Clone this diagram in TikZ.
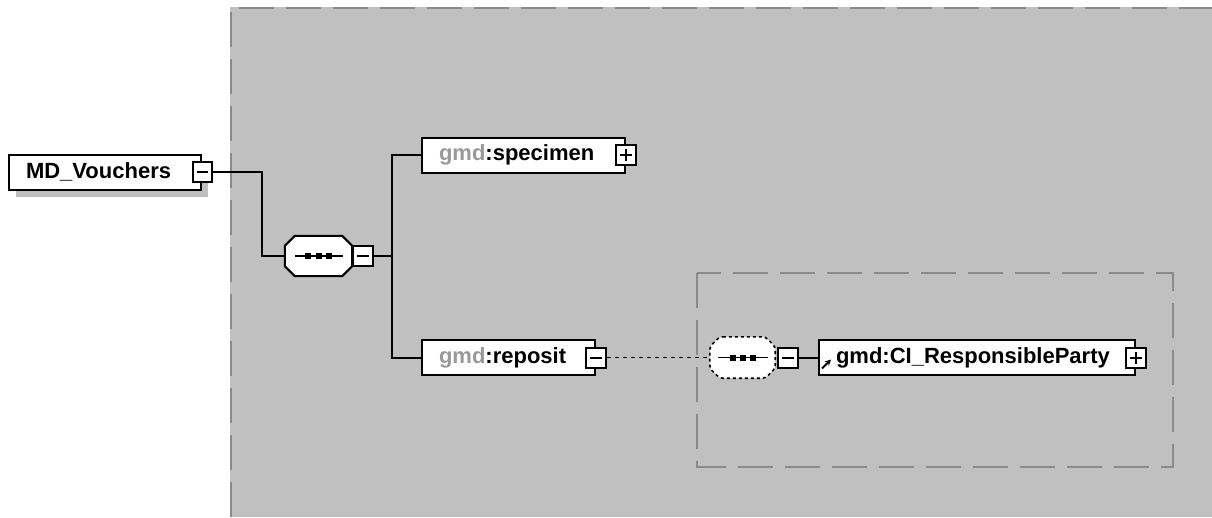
\documentclass[tikz,border=0pt]{standalone}
\usepackage{fontspec}
\setmainfont{Liberation Sans}
\usetikzlibrary{calc,arrows.meta}
\definecolor{bggray}{HTML}{C0C0C0}
\definecolor{dashgray}{HTML}{8A8A8A}
\definecolor{pfxgray}{HTML}{999999}
\tikzset{
  elem/.style={draw=black, line width=2pt, fill=white, minimum height=35pt,
    inner xsep=17pt, inner ysep=0pt, align=left, anchor=west,
    font=\fontsize{22}{26}\selectfont\bfseries},
  btn/.style={draw=black, line width=2pt, fill=white, minimum width=20pt,
    minimum height=20pt, inner sep=0pt},
  minusbtn/.style={btn, path picture={
    \draw[line width=2pt] ($(path picture bounding box.west)+(4pt,0pt)$) -- ($(path picture bounding box.east)+(-4pt,0pt)$);}},
  plusbtn/.style={btn, path picture={
    \draw[line width=2pt] ($(path picture bounding box.west)+(4pt,0pt)$) -- ($(path picture bounding box.east)+(-4pt,0pt)$);
    \draw[line width=2pt] ($(path picture bounding box.north)+(0pt,-4pt)$) -- ($(path picture bounding box.south)+(0pt,4pt)$);}},
  seqbox/.style={rectangle, inner sep=0pt, minimum width=67pt, minimum height=40pt},
  octo/.style={draw=black, line width=2pt, fill=white},
  octodash/.style={draw=black, line width=1.6pt, fill=white, dash pattern=on 3pt off 3pt, rounded corners=3pt},
  bigdash/.style={draw=dashgray, line width=2pt, dash pattern=on 35pt off 12pt},
  conn/.style={draw=black, line width=2pt},
  optconn/.style={draw=black, line width=1.6pt, dash pattern=on 4pt off 4pt}
}
\begin{document}
\begin{tikzpicture}[x=1pt,y=-1pt]
\useasboundingbox (0,0) rectangle (1212,517);
% background region
\fill[bggray] (230,7) rectangle (1212,517);
\draw[bigdash] (231,517) -- (231,8) -- (1212,8);
\draw[bigdash] (697,273) rectangle (1173,467);
% shadow of global element
\fill[bggray] (16,164) rectangle (208,197);
% root element
\node[elem, text width=158pt] (md) at (8,172) {MD\_Vouchers};
\node[minusbtn, minimum width=19pt] (mdb) at (md.east) {};
% sequence compositor
\node[seqbox] (seq) at (318.5,256) {};
\draw[octo] ([xshift=10pt]seq.north west) -- ([xshift=-10pt]seq.north east) -- ([yshift=-10pt]seq.north east)
  -- ([yshift=10pt]seq.south east) -- ([xshift=-10pt]seq.south east) -- ([xshift=10pt]seq.south west)
  -- ([yshift=10pt]seq.south west) -- ([yshift=-10pt]seq.north west) -- cycle;
\draw[line width=1.6pt] ($(seq.center)+(-23.5,0)$) -- ($(seq.center)+(24.5,0)$);
\foreach \dx in {-11,0,10} \fill ($(seq.center)+(\dx,0)+(-3,-3)$) rectangle ($(seq.center)+(\dx,0)+(3,3)$);
\node[minusbtn] (seqb) at (363,256) {};
% children
\node[elem, text width=169pt] (spec) at (421,155) {{\color{pfxgray}gmd}:specimen};
\node[plusbtn] (specb) at (spec.east) {};
\node[elem, text width=139pt] (repo) at (421,357.5) {{\color{pfxgray}gmd}:reposit};
\node[minusbtn] (repob) at (repo.east) {};
% optional sequence
\node[seqbox, minimum width=65pt, minimum height=41pt] (seq2) at (742.5,357.5) {};
\draw[octodash] ([xshift=10pt]seq2.north west) -- ([xshift=-10pt]seq2.north east) -- ([yshift=-10pt]seq2.north east)
  -- ([yshift=10pt]seq2.south east) -- ([xshift=-10pt]seq2.south east) -- ([xshift=10pt]seq2.south west)
  -- ([yshift=10pt]seq2.south west) -- ([yshift=-10pt]seq2.north west) -- cycle;
\draw[line width=1.6pt] ($(seq2.center)+(-24.5,0)$) -- ($(seq2.center)+(25.5,0)$);
\foreach \dx in {-9.5,0.5,10.5} \fill ($(seq2.center)+(\dx,0)+(-3,-3)$) rectangle ($(seq2.center)+(\dx,0)+(3,3)$);
\node[minusbtn] (seq2b) at (788,357.5) {};
\node[elem, text width=282pt] (ci) at (818,357.5) {gmd:CI\_ResponsibleParty};
\node[plusbtn] (cib) at (ci.east) {};
\draw[line width=1.8pt, -{Stealth[length=6pt,width=6pt]}] ($(ci.west)+(4,11)$) -- ($(ci.west)+(13,2)$);
% connectors
\draw[conn] (mdb.east) -- ++(49,0) |- (seq.west);
\draw[conn] (seqb.east) -- ++(18,0) coordinate (br);
\draw[conn] (br) |- (spec.west);
\draw[conn] (br) |- (repo.west);
\draw[optconn] (repob.east) -- (seq2.west);
\draw[conn] (seq2b.east) -- (ci.west);
\end{tikzpicture}
\end{document}
